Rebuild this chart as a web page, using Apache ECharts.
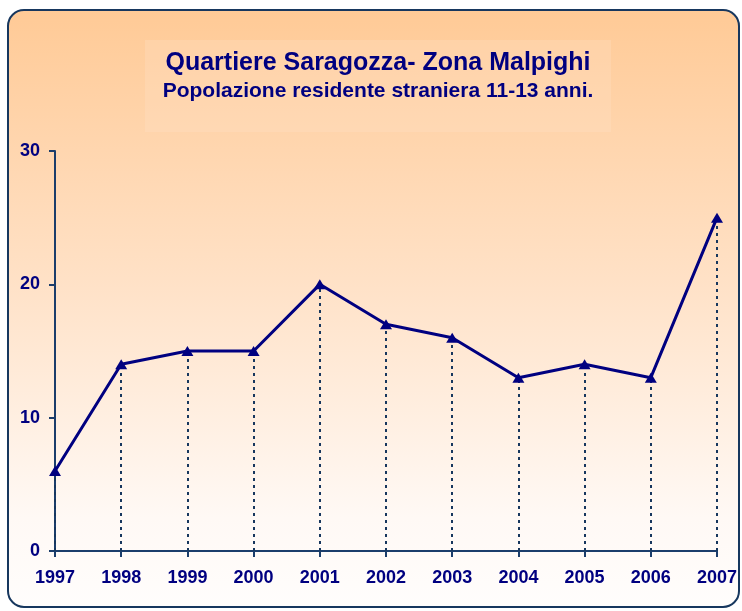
<!DOCTYPE html>
<html>
<head>
<meta charset="utf-8">
<script src="https://cdn.jsdelivr.net/npm/echarts@6/dist/echarts.min.js"></script>
<style>
  html, body { margin: 0; padding: 0; background: #fff; }
  #main { width: 742px; height: 611px; }
</style>
</head>
<body>
<div id="main"></div>
<script>
// dati
var years = ['1997', '1998', '1999', '2000', '2001', '2002', '2003', '2004', '2005', '2006', '2007'];
var residenti = [6, 14, 15, 15, 20, 17, 16, 13, 14, 13, 25];
var yTicks = [0, 10, 20, 30];

var navy = '#000080';
var axisCol = '#1b3d6b';
var font = 'Liberation Sans, Arial, sans-serif';

// linee tratteggiate verticali fino all'asse
var drops = residenti.map(function (v, i) {
  return [{ coord: [i, 0] }, { coord: [i, v] }];
});

var myChart = echarts.init(document.getElementById('main'));
myChart.setOption({
  animation: false,
  textStyle: { fontFamily: font },
  graphic: [
    {
      type: 'rect',
      shape: { x: 8, y: 10, width: 731, height: 597, r: 16 },
      style: {
        fill: new echarts.graphic.LinearGradient(0, 0, 0, 1, [
          { offset: 0, color: '#ffca96' },
          { offset: 0.45, color: '#ffe1c6' },
          { offset: 0.85, color: '#fff9f5' },
          { offset: 1, color: '#fffdfc' }
        ]),
        stroke: '#17375e',
        lineWidth: 2
      },
      z: -10
    },
    {
      type: 'rect',
      shape: { x: 145, y: 40, width: 466, height: 92 },
      style: { fill: 'rgba(255,228,200,0.28)' },
      z: -9
    }
  ],
  title: {
    text: 'Quartiere Saragozza- Zona Malpighi',
    subtext: 'Popolazione residente straniera 11-13 anni.',
    left: 373,
    textAlign: 'center',
    top: 46,
    itemGap: 5,
    textStyle: { color: navy, fontSize: 25, fontWeight: 'bold', fontFamily: font },
    subtextStyle: { color: navy, fontSize: 21, fontWeight: 'bold', fontFamily: font }
  },
  grid: { left: 55, right: 25, top: 151, bottom: 60, containLabel: false },
  xAxis: {
    type: 'category',
    data: years,
    boundaryGap: false,
    axisLine: { lineStyle: { color: axisCol, width: 2 } },
    axisTick: { show: true, alignWithLabel: true, length: 6, lineStyle: { color: axisCol, width: 2 } },
    axisLabel: { color: navy, fontSize: 18, fontWeight: 'bold', margin: 18, interval: 0 },
    splitLine: { show: false }
  },
  yAxis: {
    type: 'value',
    min: yTicks[0],
    max: yTicks[yTicks.length - 1],
    interval: 10,
    axisLine: { show: true, lineStyle: { color: axisCol, width: 2 } },
    axisTick: { show: true, length: 6, lineStyle: { color: axisCol, width: 2 } },
    axisLabel: { color: navy, fontSize: 18, fontWeight: 'bold', margin: 15 },
    splitLine: { show: false }
  },
  series: [
    {
      name: 'Residenti',
      type: 'line',
      data: residenti,
      symbol: 'triangle',
      symbolSize: [12, 10],
      itemStyle: { color: navy },
      lineStyle: { color: navy, width: 3 },
      z: 5,
      markLine: {
        silent: true,
        symbol: 'none',
        label: { show: false },
        lineStyle: { color: '#17375e', width: 2, type: [3, 4] },
        data: drops,
        z: 2
      }
    }
  ]
});
</script>
</body>
</html>
